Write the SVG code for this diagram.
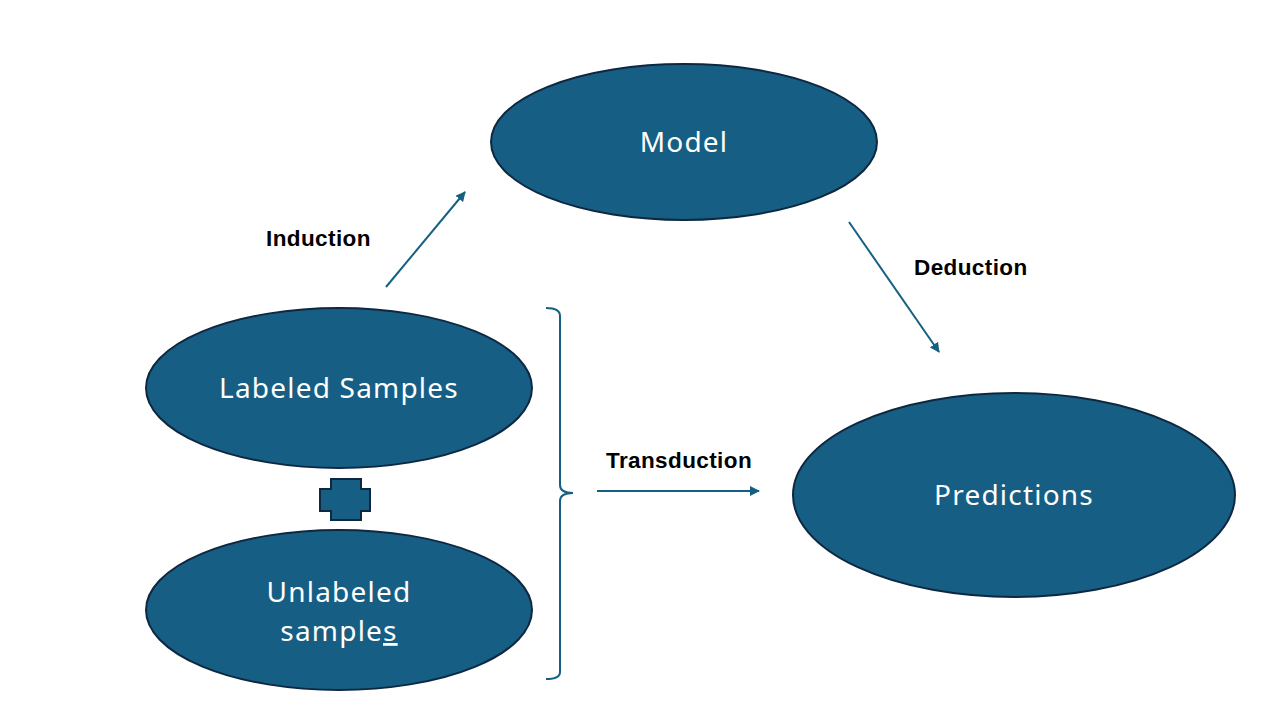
<svg xmlns="http://www.w3.org/2000/svg" width="1280" height="720" viewBox="0 0 1280 720">
<style>
.node{fill:#165E83;stroke:#0E2841;stroke-width:2}
.nt{font-family:"Noto Sans","Open Sans",sans-serif;font-size:28px;letter-spacing:1.2px;fill:#FFFFFF;text-anchor:middle}
.lbl{font-family:"Liberation Sans",Arial,sans-serif;font-size:22.5px;letter-spacing:0.4px;font-weight:bold;fill:#000000}
.conn{stroke:#156082;stroke-width:2;fill:none}
</style>
<defs>
<marker id="ah" viewBox="0 0 10 10" refX="9" refY="5" markerWidth="5" markerHeight="5" orient="auto" markerUnits="strokeWidth">
<path d="M0,0 L10,5 L0,10 z" fill="#156082"/>
</marker>
</defs>
<rect width="1280" height="720" fill="#FFFFFF"/>
<g id="model"><ellipse class="node" cx="684" cy="142" rx="193" ry="78"/><text class="nt" x="684" y="152">Model</text></g>
<g id="labeled"><ellipse class="node" cx="339" cy="388" rx="193" ry="80"/><text class="nt" x="339" y="398">Labeled Samples</text></g>
<g id="unlabeled"><ellipse class="node" cx="339" cy="610" rx="193" ry="80"/><text class="nt" x="339" y="602">Unlabeled</text><text class="nt" x="339" y="641">sample<tspan text-decoration="underline">s</tspan></text></g>
<g id="predictions"><ellipse class="node" cx="1014" cy="495" rx="221" ry="102"/><text class="nt" x="1014" y="505">Predictions</text></g>
<g id="plus"><path class="node" d="M331,479 H361 V489 H370 V511 H361 V520 H331 V511 H320 V489 H331 Z"/></g>
<g id="brace"><path class="conn" d="M546,308 Q560,308 560,316 V485 Q560,493 573,493 Q560,493 560,501 V672 Q560,679 546,679"/></g>
<g id="connectors">
<line class="conn" x1="386" y1="287" x2="465" y2="192" marker-end="url(#ah)"/>
<line class="conn" x1="849" y1="222" x2="939" y2="352" marker-end="url(#ah)"/>
<line class="conn" x1="597" y1="491" x2="759" y2="491" marker-end="url(#ah)"/>
</g>
<g id="labels">
<text class="lbl" x="266" y="246">Induction</text>
<text class="lbl" x="914" y="275">Deduction</text>
<text class="lbl" x="606" y="468">Transduction</text>
</g>
</svg>
